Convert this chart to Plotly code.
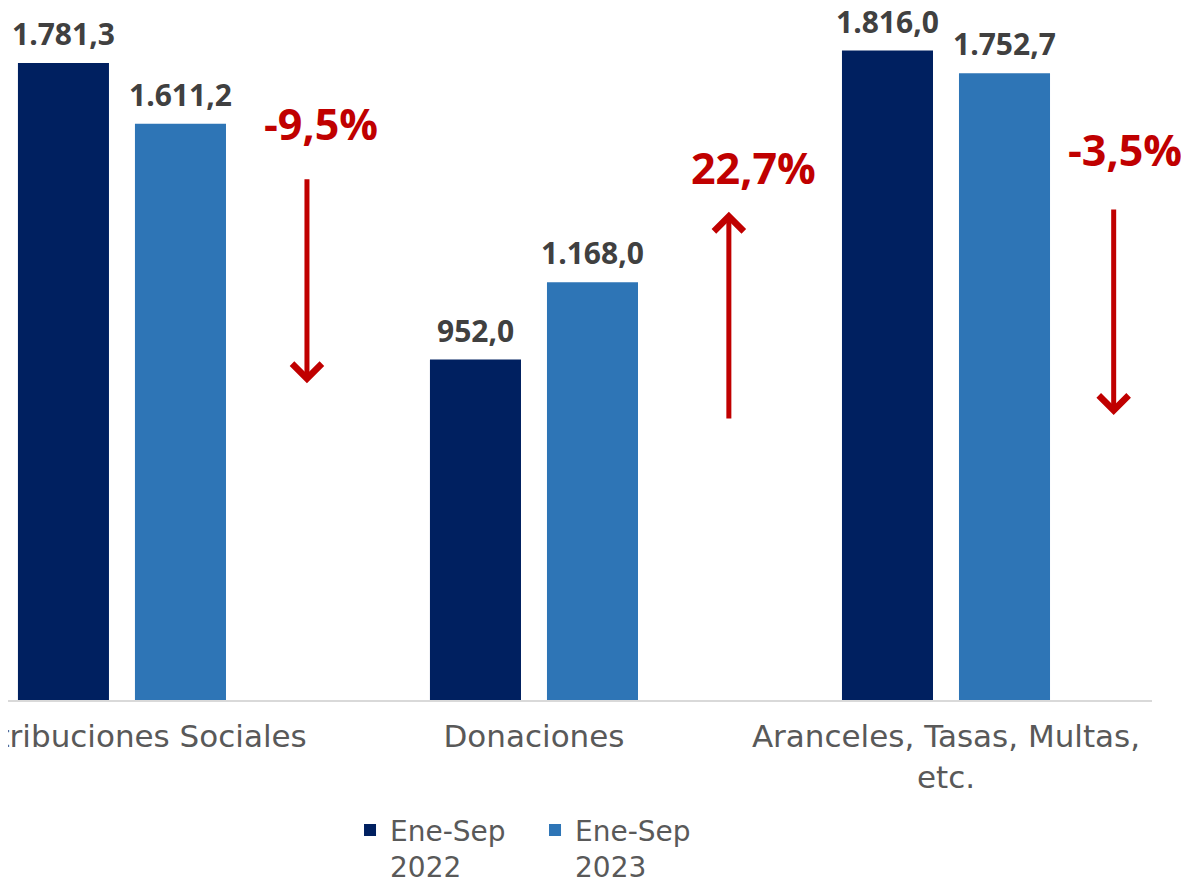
import plotly.graph_objects as go

categories = ["Contribuciones Sociales", "Donaciones", "Aranceles, Tasas, Multas,<br>etc."]
series_names = ["Ene-Sep<br>2022", "Ene-Sep<br>2023"]
values_2022 = [1781.3, 952.0, 1816.0]
values_2023 = [1611.2, 1168.0, 1752.7]
pct_labels = ["-9,5%", "22,7%", "-3,5%"]

COLORS = ["#002060", "#2E75B6"]
RED = "#C00000"
LABEL_GRAY = "#404040"
AXIS_GRAY = "#595959"
BOLD_FONT = "Open Sans"
TEXT_FONT = "DejaVu Sans"


def fmt(v):
    # 1,781.3 -> 1.781,3
    return f"{v:,.1f}".replace(",", "X").replace(".", ",").replace("X", ".")


fig = go.Figure()
x_idx = list(range(len(categories)))

for name, vals, color in zip(series_names, [values_2022, values_2023], COLORS):
    fig.add_trace(go.Bar(
        x=x_idx,
        y=vals,
        name=name,
        marker=dict(color=color, line=dict(width=0)),
    ))

# value labels above bars
half_slot = 0.142
for offset, vals in zip([-half_slot, half_slot], [values_2022, values_2023]):
    for i, v in enumerate(vals):
        fig.add_annotation(
            x=i + offset, y=v, text=f"<b>{fmt(v)}</b>",
            showarrow=False, yanchor="bottom", yshift=7,
            font=dict(family=BOLD_FONT, size=30, color=LABEL_GRAY),
        )

# percentage changes and arrows (positions in axis units)
pct_pos = [(0.483, 1611), (1.534, 1488), (2.434, 1538)]
arrow_x = [0.449, 1.473, 2.407]
arrow_tail = [1460, 783, 1376]
arrow_tip = [886, 1365, 797]
for i, lab in enumerate(pct_labels):
    px_, py_ = pct_pos[i]
    fig.add_annotation(
        x=px_, y=py_, text=f"<b>{lab}</b>", showarrow=False,
        font=dict(family=BOLD_FONT, size=43, color=RED),
    )
    fig.add_annotation(
        x=arrow_x[i], y=arrow_tip[i], ax=arrow_x[i], ay=arrow_tail[i],
        xref="x", yref="y", axref="x", ayref="y",
        text="", showarrow=True, arrowhead=4, arrowsize=1.15,
        arrowwidth=5, arrowcolor=RED,
    )

# page has an 8px body margin, so the figure is drawn 8px smaller
fig.update_layout(
    width=1181, height=870,
    margin=dict(l=0, r=37, t=0, b=178, autoexpand=False),
    paper_bgcolor="white", plot_bgcolor="white",
    barmode="group", bargap=0.432, bargroupgap=0.222,
    font=dict(family=TEXT_FONT, color=AXIS_GRAY),
    showlegend=True,
    legend=dict(
        orientation="h", xref="container", yref="container",
        x=0.2896, xanchor="left", y=0.0835, yanchor="top",
        font=dict(family=TEXT_FONT, size=28, color=AXIS_GRAY),
        valign="top", entrywidth=140, entrywidthmode="pixels",
        traceorder="normal",
    ),
)
fig.update_xaxes(
    range=[-0.2766, 2.5], tickvals=x_idx, ticktext=categories,
    tickfont=dict(family=TEXT_FONT, size=31, color=AXIS_GRAY),
    showline=True, linecolor="#D9D9D9", linewidth=2,
    showgrid=False, zeroline=False, ticks="", ticklabelstandoff=8,
    automargin=False, ticklabeloverflow="allow",
)
fig.update_yaxes(range=[0, 1935], visible=False)

fig.write_html("out.html")
